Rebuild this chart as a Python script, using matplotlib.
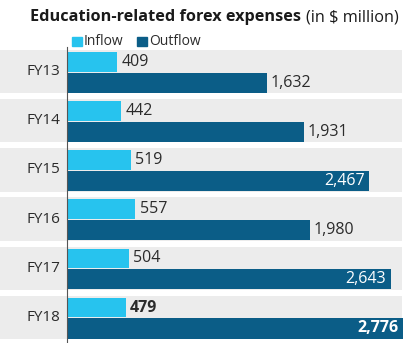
import matplotlib
matplotlib.use("Agg")
import matplotlib.pyplot as plt
from matplotlib.patches import Rectangle

plt.rcParams['font.family'] = ['Open Sans', 'DejaVu Sans']

categories = ["FY13", "FY14", "FY15", "FY16", "FY17", "FY18"]
inflow = [409, 442, 519, 557, 504, 479]
outflow = [1632, 1931, 2467, 1980, 2643, 2776]
inflow_labels = ["409", "442", "519", "557", "504", "479"]
outflow_labels = ["1,632", "1,931", "2,467", "1,980", "2,643", "2,776"]

C_IN = "#27c3ee"
C_OUT = "#0b5d87"
C_BG = "#ececec"
C_TXT = "#2b2b2b"

W, H = 414, 343
fig = plt.figure(figsize=(W / 100, H / 100), dpi=100)
fig.patch.set_facecolor("white")

ax = fig.add_axes([0, 1 - 342 / H, 403 / W, (342 - 47) / H])
ax.set_facecolor("white")
scale = 0.1225  # px per unit
xmin = -67 / scale
xmax = (403 - 67) / scale
ax.set_xlim(xmin, xmax)
ax.set_ylim(len(categories) - 0.5, -0.5)
ax.axis("off")

y = list(range(len(categories)))
band_right = (402 - 67) / scale
ax.barh(y, [band_right - xmin] * len(y), left=xmin, height=0.88, color=C_BG, zorder=0)
ax.barh([v - 0.2 for v in y], inflow, height=0.40, color=C_IN, zorder=2)
ax.barh([v + 0.225 for v in y], outflow, height=0.41, color=C_OUT, zorder=2)
ax.axvline(0, color="#555555", lw=0.8, zorder=3, ymin=-0.02, ymax=1.0, clip_on=False)

pad = 4.5 / scale
FS = 11.5
for i, cat in enumerate(categories):
    ax.text(-7 / scale, i, cat, ha="right", va="center", fontsize=11, color=C_TXT)
    bold = "bold" if i == len(categories) - 1 else "normal"
    ax.text(inflow[i] + pad, i - 0.2, inflow_labels[i], ha="left", va="center",
            fontsize=FS, color=C_TXT, fontweight=bold)
    if outflow[i] > 2200:
        ax.text(min(outflow[i], xmax) - pad, i + 0.225, outflow_labels[i], ha="right",
                va="center", fontsize=FS, color="white", fontweight=bold, zorder=4)
    else:
        ax.text(outflow[i] + 4 / scale, i + 0.225, outflow_labels[i], ha="left",
                va="center", fontsize=FS, color=C_TXT)

# Title
t1 = fig.text(30 / W, 1 - 21 / H, "Education-related forex expenses", fontsize=11.7,
              fontweight="bold", color="#1a1a1a", ha="left", va="baseline")
fig.canvas.draw()
bb = t1.get_window_extent()
fig.text((bb.x1 + 5) / W, 1 - 21 / H, "(in $ million)", fontsize=11.7,
         color="#1a1a1a", ha="left", va="baseline")

# Legend
fig.patches.append(Rectangle((72 / W, 1 - 46 / H), 10 / W, 9 / H, transform=fig.transFigure,
                             color=C_IN))
fig.text(84 / W, 1 - 41.5 / H, "Inflow", fontsize=10, color=C_TXT, va="center")
fig.patches.append(Rectangle((137 / W, 1 - 46 / H), 10 / W, 9 / H, transform=fig.transFigure,
                             color=C_OUT))
fig.text(149 / W, 1 - 41.5 / H, "Outflow", fontsize=10, color=C_TXT, va="center")

fig.savefig("out.png", dpi=100)
